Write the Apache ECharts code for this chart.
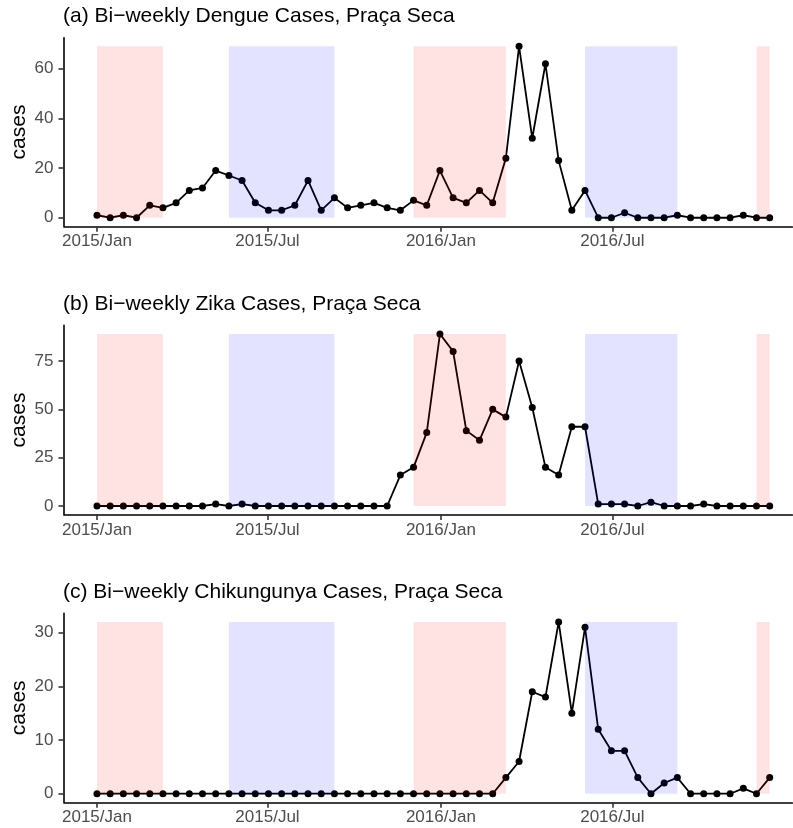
<!DOCTYPE html>
<html>
<head>
<meta charset="utf-8">
<script src="https://cdn.jsdelivr.net/npm/echarts@6/dist/echarts.min.js"></script>
<style>
html,body{margin:0;padding:0;background:#fff;}
#chart{width:793px;height:828px;}
</style>
</head>
<body>
<div id="chart"></div>
<script>
// ---- data ----
const dates = [
  '2015-01-01','2015-01-15','2015-01-29','2015-02-12','2015-02-26','2015-03-12','2015-03-26','2015-04-09',
  '2015-04-23','2015-05-07','2015-05-21','2015-06-04','2015-06-18','2015-07-02','2015-07-16','2015-07-30',
  '2015-08-13','2015-08-27','2015-09-10','2015-09-24','2015-10-08','2015-10-22','2015-11-05','2015-11-19',
  '2015-12-03','2015-12-17','2015-12-31','2016-01-14','2016-01-28','2016-02-11','2016-02-25','2016-03-10',
  '2016-03-24','2016-04-07','2016-04-21','2016-05-05','2016-05-19','2016-06-02','2016-06-16','2016-06-30',
  '2016-07-14','2016-07-28','2016-08-11','2016-08-25','2016-09-08','2016-09-22','2016-10-06','2016-10-20',
  '2016-11-03','2016-11-17','2016-12-01','2016-12-15'
];
const dengue = [1,0,1,0,5,4,6,11,12,19, 17,15,6,3,3,5,15,3,8,4, 5,6,4,3,7,5,19,8,6,11, 6,24,69,32,62,23,3,11,0,0, 2,0,0,0,1,0,0,0,0,1, 0,0];
const zika = [0,0,0,0,0,0,0,0,0,1, 0,1,0,0,0,0,0,0,0,0, 0,0,0,16,20,38,89,80,39,34, 50,46,75,51,20,16,41,41,1,1, 1,0,2,0,0,0,1,0,0,0, 0,0];
const chik = [0,0,0,0,0,0,0,0,0,0, 0,0,0,0,0,0,0,0,0,0, 0,0,0,0,0,0,0,0,0,0, 0,3,6,19,18,32,15,31,12,8, 8,3,0,2,3,0,0,0,0,1, 0,3];

const summerStart = ['2015-01-01','2015-12-03','2016-12-01'];
const summerEnd   = ['2015-03-12','2016-03-10','2016-12-15'];
const winterStart = ['2015-05-21','2016-06-02'];
const winterEnd   = ['2015-09-10','2016-09-08'];

const xTickDates  = ['2015-01-01','2015-07-01','2016-01-01','2016-07-01'];
const xTickLabels = ['2015/Jan','2015/Jul','2016/Jan','2016/Jul'];

const titles = ['(a) Bi\u2212weekly Dengue Cases, Pra\u00e7a Seca',
                '(b) Bi\u2212weekly Zika Cases, Pra\u00e7a Seca',
                '(c) Bi\u2212weekly Chikungunya Cases, Pra\u00e7a Seca'];
const yTicksA = [0,20,40,60];
const yTicksB = [0,25,50,75];
const yTicksC = [0,10,20,30];
const xRange = ['2014-11-27','2017-01-08'];

// ---- build ----
function ts(s){ const p = s.split('-').map(Number); return Date.UTC(p[0], p[1]-1, p[2]); }
const FONT = '"Liberation Sans", Arial, Helvetica, sans-serif';
const tickMs = xTickDates.map(ts);

const panels = [
  {vals: dengue, ticks: yTicksA, top: 37.8, height: 188.5, titleY: 16},
  {vals: zika,   ticks: yTicksB, top: 325.4, height: 189.2, titleY: 304},
  {vals: chik,   ticks: yTicksC, top: 613.4, height: 188.9, titleY: 592}
];

const grid = [], xAxis = [], yAxis = [], series = [], graphic = [];
panels.forEach((p, i) => {
  const maxV = Math.max(...p.vals);
  const pad = maxV * 0.05;
  grid.push({left: 64, top: p.top, width: 728.3, height: p.height, containLabel: false, outerBoundsMode: 'none'});
  xAxis.push({
    type: 'value', gridIndex: i, min: ts(xRange[0]), max: ts(xRange[1]),
    splitLine: {show: false},
    axisLine: {show: true, onZero: false, lineStyle: {color: '#000', width: 1.6}},
    axisTick: {show: true, length: 5.5, lineStyle: {color: '#333', width: 1.6}, customValues: tickMs},
    axisLabel: {
      show: true, customValues: tickMs, margin: 7, color: '#4D4D4D', fontSize: 17, fontFamily: FONT,
      formatter: v => { const k = tickMs.indexOf(v); return k >= 0 ? xTickLabels[k] : ''; }
    }
  });
  yAxis.push({
    type: 'value', gridIndex: i, min: -pad, max: maxV + pad,
    splitLine: {show: false},
    axisLine: {show: true, onZero: false, lineStyle: {color: '#000', width: 1.6}},
    axisTick: {show: true, length: 5.5, lineStyle: {color: '#333', width: 1.6}, customValues: p.ticks},
    axisLabel: {show: true, customValues: p.ticks, margin: 10.5, color: '#4D4D4D', fontSize: 17, fontFamily: FONT}
  });
  series.push({
    type: 'line', xAxisIndex: i, yAxisIndex: i, z: 2,
    data: dates.map((d, k) => [ts(d), p.vals[k]]),
    symbol: 'circle', symbolSize: 7, showSymbol: true,
    lineStyle: {color: '#000', width: 1.8},
    itemStyle: {color: '#000'},
    animation: false, silent: true
  });
  const mkShade = (starts, ends, color) => ({
    type: 'custom', xAxisIndex: i, yAxisIndex: i, z: 5, silent: true, animation: false,
    dimensions: [{name: 's', type: 'float'}, {name: 'e', type: 'float'}, {name: 'm', type: 'float'}],
    encode: {x: [0, 1], y: 2},
    data: starts.map((s, k) => [ts(s), ts(ends[k]), maxV]),
    renderItem: (params, api) => {
      const p0 = api.coord([api.value(0), 0]);
      const p1 = api.coord([api.value(1), api.value(2)]);
      return {type: 'rect', shape: {x: p0[0], y: p1[1], width: p1[0] - p0[0], height: p0[1] - p1[1]},
              style: {fill: color}};
    }
  });
  series.push(mkShade(summerStart, summerEnd, 'rgba(255,0,0,0.11)'));
  series.push(mkShade(winterStart, winterEnd, 'rgba(0,0,255,0.11)'));

  graphic.push({type: 'text', x: 63, y: p.titleY, silent: true,
    style: {text: titles[i], font: '21px ' + FONT, fill: '#000', textAlign: 'left', textVerticalAlign: 'middle'}});
  graphic.push({type: 'text', x: 19.5, y: p.top + p.height / 2, rotation: Math.PI / 2, silent: true,
    style: {text: 'cases', font: '21px ' + FONT, fill: '#000', textAlign: 'center', textVerticalAlign: 'middle'}});
});

const chart = echarts.init(document.getElementById('chart'), null, {renderer: 'canvas'});
chart.setOption({
  animation: false,
  backgroundColor: '#fff',
  textStyle: {fontFamily: FONT},
  grid, xAxis, yAxis, series, graphic
});
</script>
</body>
</html>
